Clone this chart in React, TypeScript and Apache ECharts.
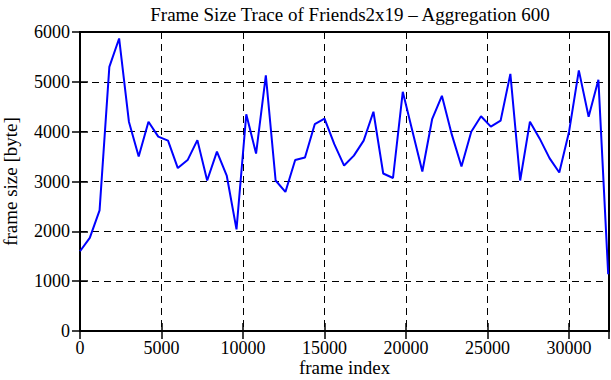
import React, { useEffect, useRef } from "react";
import * as echarts from "echarts";

const frameIndex: number[] = Array.from({ length: 55 }, (_, i) => i * 600);
const frameSize: number[] = [
  1600, 1870, 2420, 5300, 5870, 4200, 3500, 4200, 3900, 3820,
  3270, 3430, 3830, 3020, 3600, 3120, 2040, 4350, 3560, 5130,
  3020, 2790, 3430, 3480, 4150, 4260, 3750, 3320, 3520, 3820,
  4400, 3160, 3070, 4800, 4000, 3200, 4250, 4720, 3950, 3300,
  4000, 4310, 4100, 4220, 5160, 3020, 4200, 3860, 3470, 3180,
  4000, 5230, 4300, 5040, 1140,
];
const titleText = "Frame Size Trace of Friends2x19 \u2013 Aggregation 600";
const xName = "frame index";
const yName = "frame size [byte]";

const FONT = "'Liberation Serif', 'DejaVu Serif', serif";

export default function App() {
  const ref = useRef<HTMLDivElement>(null);
  useEffect(() => {
    if (!ref.current) return;
    const chart = echarts.init(ref.current, null, { renderer: "svg" });
    const tickStyle = { show: true, inside: true, length: 8, lineStyle: { color: "#000", width: 1.5 } };
    const plain = (v: number) => String(v);
    chart.setOption({
      animation: false,
      backgroundColor: "#fff",
      title: {
        text: titleText,
        left: 345,
        textAlign: "center",
        top: 0,
        textStyle: { fontFamily: FONT, fontSize: 19, fontWeight: "normal", color: "#000" },
      },
      grid: {
        left: 80, right: 2, top: 32, bottom: 49,
        outerBoundsMode: "none",
        containLabel: false,
        show: true, borderColor: "#000", borderWidth: 2, backgroundColor: "transparent",
      },
      xAxis: [
        {
          type: "value", min: 0, max: 32450, interval: 5000,
          name: xName, nameLocation: "middle", nameGap: 27, nameMoveOverlap: false,
          nameTextStyle: { fontFamily: FONT, fontSize: 19, color: "#000", lineHeight: 19 },
          axisLine: { show: true, lineStyle: { color: "#000", width: 2 } },
          axisTick: tickStyle,
          axisLabel: { fontFamily: FONT, fontSize: 18, color: "#000", margin: 8, showMaxLabel: false, formatter: plain, lineHeight: 18 },
          splitLine: { show: true, lineStyle: { color: "#000", type: [7, 5], width: 1 } },
        },
        {
          type: "value", min: 0, max: 32450, interval: 5000, position: "top",
          axisLine: { show: false }, axisTick: tickStyle, axisLabel: { show: false }, splitLine: { show: false },
        },
      ],
      yAxis: [
        {
          type: "value", min: 0, max: 6000, interval: 1000,
          name: yName, nameLocation: "middle", nameGap: 60, nameMoveOverlap: false,
          nameTextStyle: { fontFamily: FONT, fontSize: 19, color: "#000" },
          axisLine: { show: true, lineStyle: { color: "#000", width: 2 } },
          axisTick: tickStyle,
          axisLabel: { fontFamily: FONT, fontSize: 18, color: "#000", margin: 10, formatter: plain },
          splitLine: { show: true, lineStyle: { color: "#000", type: [7, 5], width: 1 } },
        },
        {
          type: "value", min: 0, max: 6000, interval: 1000, position: "right",
          axisLine: { show: false }, axisTick: tickStyle, axisLabel: { show: false }, splitLine: { show: false },
        },
      ],
      series: [
        {
          type: "line",
          data: frameIndex.map((x, i) => [x, frameSize[i]]),
          showSymbol: false,
          lineStyle: { color: "#0000ff", width: 2 },
          itemStyle: { color: "#0000ff" },
        },
      ],
    });
    return () => chart.dispose();
  }, []);
  return <div ref={ref} style={{ width: 611, height: 380, position: "absolute", left: 0, top: 0 }} />;
}
